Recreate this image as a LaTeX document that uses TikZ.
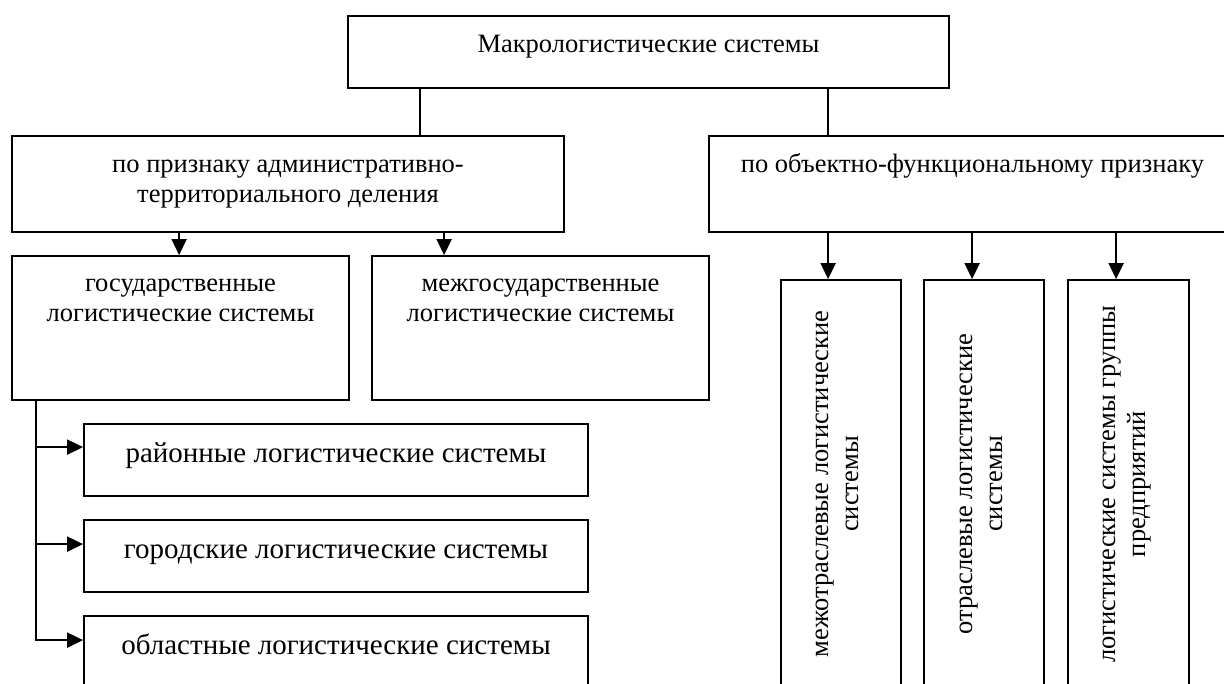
\documentclass[tikz,border=0pt]{standalone}
\usepackage{fontspec}
\setmainfont{Liberation Serif}
\usetikzlibrary{arrows.meta,calc}
\newcommand{\twoln}[2]{\begin{tabular}[t]{@{}c@{}}#1\\#2\end{tabular}}
\begin{document}
\begin{tikzpicture}[x=1pt,y=-1pt,
  box/.style={draw, line width=1.8pt, inner sep=0pt},
  ln/.style={line width=1.8pt},
  arr/.style={line width=1.8pt, -{Triangle[length=16pt,width=15pt]}},
  txt/.style={font=\fontsize{26.5}{30}\selectfont, inner sep=0pt, anchor=base},
  big/.style={font=\fontsize{29}{33}\selectfont, inner sep=0pt, anchor=base}]
\useasboundingbox (0,0) rectangle (1224,684);
\clip (0,0) rectangle (1224,684);
% boxes
\node[box, minimum width=601pt, minimum height=72pt] (top) at (648.5,52) {};
\node[box, minimum width=552pt, minimum height=96pt] (adm) at (288,184) {};
\node[box, minimum width=527pt, minimum height=96pt] (obj) at (972.5,184) {};
\node[box, minimum width=337pt, minimum height=144pt] (gos) at (180.5,328) {};
\node[box, minimum width=337pt, minimum height=144pt] (mezh) at (540.5,328) {};
\node[box, minimum width=504pt, minimum height=72pt] (r1) at (336,460) {};
\node[box, minimum width=504pt, minimum height=72pt] (r2) at (336,556) {};
\node[box, minimum width=504pt, minimum height=72pt] (r3) at (336,652) {};
\node[box, minimum width=120pt, minimum height=408pt] (v1) at (841,484) {};
\node[box, minimum width=120pt, minimum height=408pt] (v2) at (984,484) {};
\node[box, minimum width=121pt, minimum height=408pt] (v3) at (1128.5,484) {};
% texts
\node[txt] (toptx) at (648.5,53) {Макрологистические системы};
\node[txt] (admtx) at (288,173) {\twoln{по признаку административно-}{территориального деления}};
\node[txt] (objtx) at (972.5,173) {по объектно-функциональному признаку};
\node[txt] (gostx) at (180.5,292) {\twoln{государственные}{логистические системы}};
\node[txt] (mezhtx) at (540.5,292) {\twoln{межгосударственные}{логистические системы}};
\node[big] (r1tx) at (336,462.5) {районные логистические системы};
\node[big] (r2tx) at (336,558.5) {городские логистические системы};
\node[big] (r3tx) at (336,654.5) {областные логистические системы};
\node[txt, rotate=90] (v1tx) at (828,484) {\twoln{межотраслевые логистические}{системы}};
\node[txt, rotate=90] (v2tx) at (972,484) {\twoln{отраслевые логистические}{системы}};
\node[txt, rotate=90] (v3tx) at (1115,484) {\twoln{логистические системы группы}{предприятий}};
% connectors
\draw[ln] ($(top.south west)+(73,0)$) -- ($(adm.north west)+(409,0)$);
\draw[ln] ($(top.south west)+(481,0)$) -- ($(obj.north west)+(120,0)$);
\draw[arr] ($(adm.south west)+(168,0)$) -- ($(gos.north west)+(168,0)$);
\draw[arr] ($(adm.south west)+(433,0)$) -- ($(mezh.north west)+(73,0)$);
\draw[arr] ($(obj.south west)+(120,0)$) -- ($(v1.north west)+(48,0)$);
\draw[arr] ($(obj.south west)+(264,0)$) -- ($(v2.north west)+(49,0)$);
\draw[arr] ($(obj.south west)+(408,0)$) -- ($(v3.north west)+(49,0)$);
\draw[arr] ($(gos.south west)+(24.7,0)$) |- ($(r1.north west)+(0,24)$);
\draw[arr] ($(gos.south west)+(24.7,0)$) |- ($(r2.north west)+(0,25)$);
\draw[arr] ($(gos.south west)+(24.7,0)$) |- ($(r3.north west)+(0,25)$);
\end{tikzpicture}
\end{document}
